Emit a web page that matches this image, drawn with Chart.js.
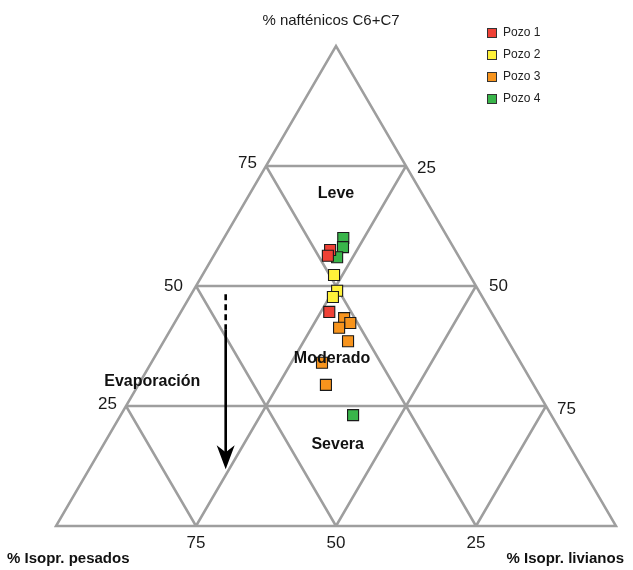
<!DOCTYPE html>
<html>
<head>
<meta charset="utf-8">
<script src="https://cdn.jsdelivr.net/npm/chart.js@4"></script>
<style>
  html, body { margin: 0; padding: 0; background: #ffffff; }
  canvas { display: block; }
</style>
</head>
<body>
<canvas id="tern" width="633" height="570"></canvas>
<script>
// Composición (%) de cada muestra: nafténicos C6+C7, isoprenoides livianos, isoprenoides pesados
const pozos = ['Pozo 1', 'Pozo 2', 'Pozo 3', 'Pozo 4'];
const naftenicos = [
  [57.5, 56.3, 44.6],
  [52.3, 49.0, 47.7],
  [43.3, 42.3, 41.3, 38.5, 34.0, 29.4],
  [60.0, 58.1, 56.0, 23.1]
];
const livianos = [
  [20.2, 20.4, 26.5],
  [23.5, 25.7, 25.6],
  [29.8, 31.4, 29.9, 32.9, 30.5, 33.5],
  [21.3, 22.2, 22.2, 41.5]
];
const pesados = [
  [22.3, 23.3, 28.9],
  [24.2, 25.3, 26.7],
  [26.9, 26.3, 28.8, 28.6, 35.5, 37.1],
  [18.7, 19.7, 21.8, 35.4]
];
const colores = ['#ef4136', '#fff23a', '#f7941d', '#39b54a'];
const divisiones = [25, 50, 75];

// Ternary composition -> plane coordinates (0..100 on both scales)
function aPlano(n, l, p) {
  const s = n + l + p;
  const nn = 100 * n / s, ll = 100 * l / s;
  return { x: ll + nn / 2, y: nn };
}

const datasets = pozos.map((nombre, i) => ({
  label: nombre,
  data: naftenicos[i].map((n, j) => aPlano(n, livianos[i][j], pesados[i][j])),
  backgroundColor: colores[i],
  borderColor: '#1a1a1a',
  borderWidth: 1.1,
  pointStyle: 'rect',
  pointRadius: 7.8,
  pointHoverRadius: 7.8,
  clip: false
}));

const FONT = '"Liberation Sans", Arial, sans-serif';

// Triangle outline and 25/50/75 grid
const gridPlugin = {
  id: 'ternaryGrid',
  beforeDatasetsDraw(chart) {
    const { ctx, scales: { x, y } } = chart;
    const P = (a, b) => [x.getPixelForValue(a), y.getPixelForValue(b)];
    const seg = (a, b) => {
      const p1 = P(a[0], a[1]), p2 = P(b[0], b[1]);
      ctx.moveTo(p1[0], p1[1]);
      ctx.lineTo(p2[0], p2[1]);
    };
    ctx.save();
    ctx.strokeStyle = '#9e9e9e';
    ctx.lineWidth = 2.5;
    ctx.lineJoin = 'miter';
    ctx.beginPath();
    const a = P(0, 0), b = P(100, 0), c = P(50, 100);
    ctx.moveTo(a[0], a[1]); ctx.lineTo(b[0], b[1]); ctx.lineTo(c[0], c[1]); ctx.closePath();
    divisiones.forEach(v => {
      seg([v / 2, v], [100 - v / 2, v]);                 // nafténicos constantes
      seg([v, 0], [v + (100 - v) / 2, 100 - v]);         // livianos constantes
      seg([100 - v, 0], [(100 - v) / 2, 100 - v]);       // pesados constantes
    });
    ctx.stroke();

    // Flecha de evaporación
    const ax = 30.3;
    const top = P(ax, 48.3), mid = P(ax, 41.0), tip = P(ax, 11.8);
    ctx.strokeStyle = '#000';
    ctx.fillStyle = '#000';
    ctx.lineWidth = 2.6;
    ctx.beginPath();
    ctx.setLineDash([6, 4]);
    ctx.moveTo(top[0], top[1]); ctx.lineTo(mid[0], mid[1]);
    ctx.stroke();
    ctx.setLineDash([]);
    ctx.beginPath();
    ctx.moveTo(mid[0], mid[1]); ctx.lineTo(tip[0], tip[1] - 10);
    ctx.stroke();
    ctx.beginPath();
    ctx.moveTo(tip[0], tip[1]);
    ctx.lineTo(tip[0] - 9, tip[1] - 24);
    ctx.lineTo(tip[0], tip[1] - 17);
    ctx.lineTo(tip[0] + 9, tip[1] - 24);
    ctx.closePath();
    ctx.fill();
    ctx.restore();
  }
};

// Tick labels, titles, zone names and legend
const labelPlugin = {
  id: 'ternaryLabels',
  afterDatasetsDraw(chart) {
    const { ctx, scales: { x, y } } = chart;
    const P = (a, b) => [x.getPixelForValue(a), y.getPixelForValue(b)];
    const txt = (s, px, py, align, font, color) => {
      ctx.font = font;
      ctx.fillStyle = color || '#1a1a1a';
      ctx.textAlign = align;
      ctx.textBaseline = 'middle';
      ctx.fillText(s, px, py);
    };
    ctx.save();
    const tickFont = '17px ' + FONT;
    // Left side (nafténicos)
    const izqDx = { 25: 9, 50: 13, 75: 9 }, izqDy = { 25: -2, 50: 0, 75: -3 };
    divisiones.forEach(v => {
      const p = P(v / 2, v);
      txt(String(v), p[0] - izqDx[v], p[1] + izqDy[v], 'right', tickFont);
    });
    // Right side (livianos)
    const derDx = { 25: 11, 50: 13, 75: 11 }, derDy = { 25: 2, 50: 0, 75: 3 };
    divisiones.forEach(v => {
      const p = P(100 - (100 - v) / 2, 100 - v);
      txt(String(v), p[0] + derDx[v], p[1] + derDy[v], 'left', tickFont);
    });
    // Bottom (pesados)
    divisiones.forEach(v => {
      const p = P(100 - v, 0);
      txt(String(v), p[0], p[1] + 17, 'center', tickFont);
    });

    // Axis titles
    const apex = P(50, 100);
    txt('% nafténicos C6+C7', apex[0] - 5, 21, 'center', '15px ' + FONT);
    const bl = P(0, 0), br = P(100, 0);
    txt('% Isopr. pesados', 7, bl[1] + 33, 'left', 'bold 15px ' + FONT, '#111');
    txt('% Isopr. livianos', 624, br[1] + 33, 'right', 'bold 15px ' + FONT, '#111');

    // Zonas
    const zf = 'bold 16px ' + FONT;
    let p = P(50, 69.2); txt('Leve', p[0], p[1], 'center', zf, '#111');
    p = P(49.3, 34.8); txt('Moderado', p[0], p[1], 'center', zf, '#111');
    p = P(50.3, 17.0); txt('Severa', p[0], p[1], 'center', zf, '#111');
    p = P(17.2, 30.0); txt('Evaporación', p[0], p[1], 'center', zf, '#111');

    // Legend
    const lx = 487, ly0 = 33, dy = 22;
    chart.data.datasets.forEach((ds, i) => {
      const cy = ly0 + i * dy;
      ctx.fillStyle = ds.backgroundColor;
      ctx.fillRect(lx, cy - 5, 10, 10);
      ctx.strokeStyle = '#333';
      ctx.lineWidth = 1;
      ctx.strokeRect(lx + 0.5, cy - 4.5, 9, 9);
      txt(ds.label, lx + 16, cy, 'left', '12px ' + FONT, '#222');
    });
    ctx.restore();
  }
};

new Chart(document.getElementById('tern'), {
  type: 'scatter',
  data: { datasets },
  options: {
    responsive: false,
    animation: false,
    devicePixelRatio: 1,
    layout: { padding: { left: 56, right: 17, top: 46, bottom: 44 } },
    scales: {
      x: { type: 'linear', min: 0, max: 100, display: false },
      y: { type: 'linear', min: 0, max: 100, display: false }
    },
    plugins: {
      legend: { display: false },
      tooltip: { enabled: false }
    }
  },
  plugins: [gridPlugin, labelPlugin]
});
</script>
</body>
</html>
